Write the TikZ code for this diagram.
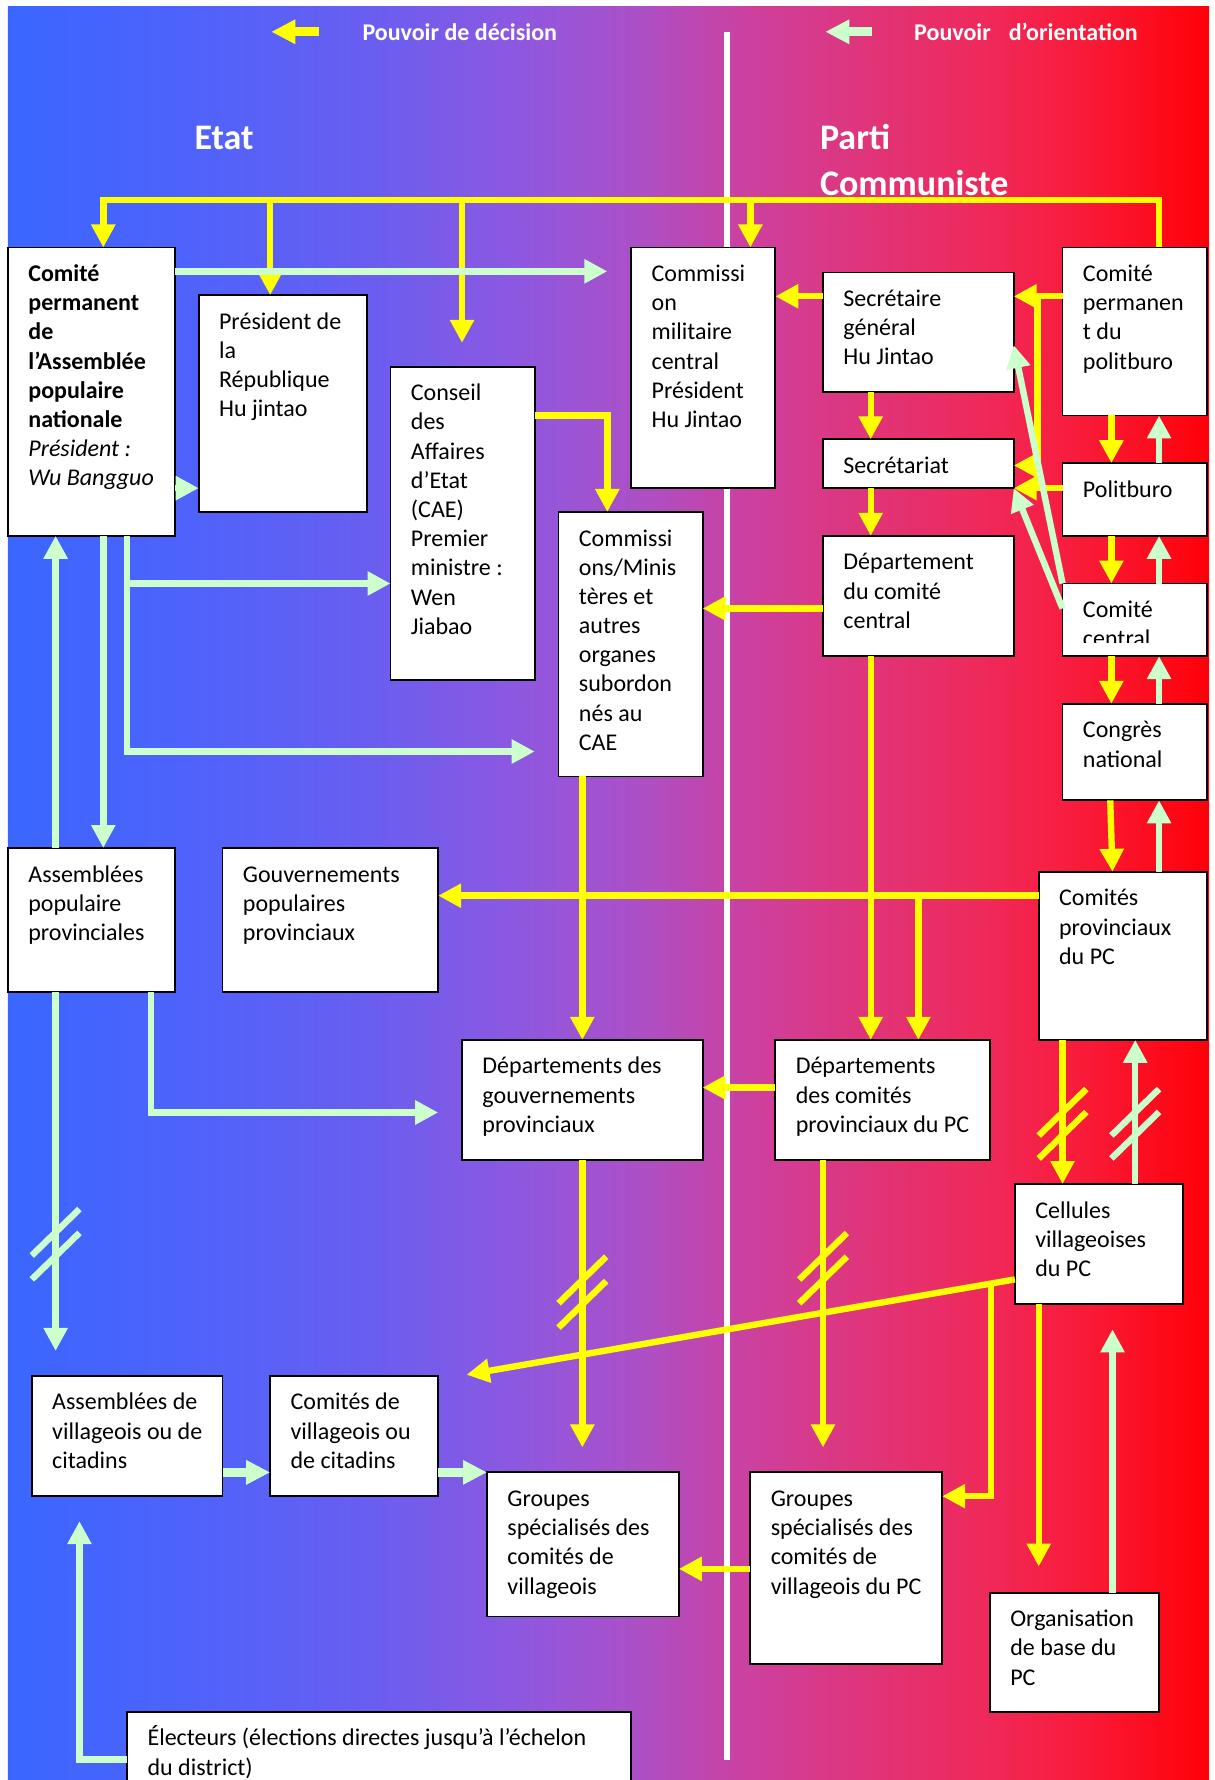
\documentclass[tikz,border=0pt]{standalone}
\usepackage{fontspec}
\setmainfont{Carlito}
\usetikzlibrary{arrows.meta}
\definecolor{yel}{RGB}{255,255,0}
\definecolor{grn}{RGB}{204,255,204}
\definecolor{g0}{RGB}{58,102,255}
\definecolor{g1}{RGB}{78,99,251}
\definecolor{g2}{RGB}{105,94,240}
\definecolor{g3}{RGB}{140,88,225}
\definecolor{g4}{RGB}{170,80,200}
\definecolor{g5}{RGB}{205,64,158}
\definecolor{g6}{RGB}{225,52,120}
\definecolor{g7}{RGB}{240,40,88}
\definecolor{g8}{RGB}{249,26,55}
\definecolor{g9}{RGB}{255,0,8}
\pgfdeclarehorizontalshading{bgsh}{100bp}{color(0bp)=(g0); color(25bp)=(g0); color(32.5bp)=(g1); color(40bp)=(g2); color(46bp)=(g3); color(51bp)=(g4); color(56bp)=(g5); color(61bp)=(g6); color(66bp)=(g7); color(70bp)=(g8); color(75bp)=(g9); color(100bp)=(g9)}
\newcommand\unitpt{0.5678pt}
\tikzset{
  boxst/.style={draw=black, line width=0.9pt, fill=white, inner sep=0pt, outer sep=0pt},
  txtst/.style={anchor=base west, inner sep=0pt, outer sep=0pt, font=\fontsize{12}{14.6}\selectfont},
  ttl/.style={anchor=base west, inner sep=0pt, text=white},
  yline/.style={draw=yel, line width=3.2pt},
  gline/.style={draw=grn, line width=3.2pt},
  yarr/.style={yline, -{Triangle[length=11.5pt,width=11.5pt]}},
  garr/.style={gline, -{Triangle[length=11.5pt,width=11.5pt]}},
  ybig/.style={draw=yel, line width=4.3pt, -{Triangle[length=12pt,width=11.5pt]}},
  gbig/.style={draw=grn, line width=4.3pt, -{Triangle[length=12pt,width=11.5pt]}},
}
\newcommand\bxframe[5]{\node[boxst, minimum width={(#4-#2)*\unitpt}, minimum height={(#5-#3)*\unitpt}, anchor=north west] (#1) at (#2,#3) {};}
\newcommand\bxtext[4]{\node[txtst] (#1) at (#2,#3) {\begin{minipage}[t]{8cm}#4\end{minipage}};}
\newcommand\mkbox[6]{\bxframe{#1}{#2}{#3}{#4}{#5}\bxtext{#1-t}{#2+18}{#3+30}{#6}}
\newcommand\brk[3]{\draw[draw=#1, line width=3.2pt] (#2-21,#3+20.5) -- (#2+21,#3-20.5);}
\begin{document}
\begin{tikzpicture}[x=0.5678pt,y=-0.5678pt]
\useasboundingbox (0,0) rectangle (1070,1568);
\shade[shading=bgsh] (7,6) rectangle (1065,1575);
\draw[white, line width=3pt] (640,28) -- (640,1550);

% legend
\coordinate (l1s) at (281,28); \coordinate (l1e) at (239,28);
\coordinate (l2s) at (768,28); \coordinate (l2e) at (727,28);
\draw[ybig] (l1s) -- (l1e);
\draw[gbig] (l2s) -- (l2e);
\node[ttl, font=\bfseries\fontsize{12}{14}\selectfont] (tdec) at (319,36) {Pouvoir de décision};
\node[ttl, font=\bfseries\fontsize{12}{14}\selectfont] (tori) at (805,36) {Pouvoir\hspace{0.75em}d’orientation};
\node[ttl, font=\bfseries\fontsize{18}{22}\selectfont] (tetat) at (171,132) {Etat};
\node[ttl, font=\bfseries\fontsize{18}{22}\selectfont] (tparti) at (722,132) {Parti};
\node[ttl, font=\bfseries\fontsize{18}{22}\selectfont] (tcomm) at (722,172) {Communiste};

% boxes
\mkbox{cpan}{7}{218}{154}{472}{{\bfseries Comité\\permanent\\de\\l’Assemblée\\populaire\\nationale}\\\textit{Président :}\\\textit{Wu Bangguo}}
\mkbox{pres}{175}{260}{323}{451}{Président de\\la\\République\\Hu jintao}
\mkbox{cae}{344}{323}{471}{599}{Conseil\\des\\Affaires\\d’Etat\\(CAE)\\Premier\\ministre :\\Wen\\Jiabao}
\mkbox{comm}{492}{451}{619}{684}{Commissi\\ons/Minis\\tères et\\autres\\organes\\subordon\\nés au\\CAE}
\mkbox{cmc}{556}{218}{683}{430}{Commissi\\on\\militaire\\central\\Président\\Hu Jintao}
\mkbox{sg}{725}{240}{893}{345}{Secrétaire\\général\\Hu Jintao}
\mkbox{secr}{725}{387}{893}{430}{Secrétariat}
\mkbox{dcc}{725}{472}{893}{578}{Département\\du comité\\central}
\mkbox{cpp}{936}{218}{1063}{366}{Comité\\permanen\\t du\\politburo}
\mkbox{polit}{936}{408}{1063}{472}{Politburo}
\bxframe{cc}{936}{514}{1063}{578}
\begin{scope}
\clip (936,514) rectangle (1063,566);
\bxtext{cc-t}{954}{544}{Comité\\central}
\end{scope}
\mkbox{cong}{936}{620}{1063}{705}{Congrès\\national}
\mkbox{cprov}{915}{768}{1063}{916}{Comités\\provinciaux\\du PC}
\mkbox{aprov}{7}{747}{154}{874}{Assemblées\\populaire\\provinciales}
\mkbox{gprov}{196}{747}{386}{874}{Gouvernements\\populaires\\provinciaux}
\mkbox{dgp}{407}{916}{619}{1022}{Départements des\\gouvernements\\provinciaux}
\mkbox{dcp}{683}{916}{872}{1022}{Départements\\des comités\\provinciaux du PC}
\mkbox{cell}{894}{1043}{1042}{1149}{Cellules\\villageoises\\du PC}
\mkbox{avil}{28}{1212}{196}{1318}{Assemblées de\\villageois ou de\\citadins}
\mkbox{cvil}{238}{1212}{386}{1318}{Comités de\\villageois ou\\de citadins}
\mkbox{gsv}{429}{1297}{598}{1424}{Groupes\\spécialisés des\\comités de\\villageois}
\mkbox{gspc}{661}{1297}{830}{1466}{Groupes\\spécialisés des\\comités de\\villageois du PC}
\mkbox{org}{872}{1403}{1021}{1508}{Organisation\\de base du\\PC}
\mkbox{elec}{112}{1508}{556}{1600}{Électeurs (élections directes jusqu’à l’échelon\\du district)}

% free ends
\coordinate (caeIn) at (407,302);
\coordinate (cmcIn) at (535,239);
\coordinate (commIn) at (471,662);
\coordinate (dgpIn) at (386,980);
\coordinate (gsvIn) at (513,1275);
\coordinate (gspcIn) at (725,1275);
\coordinate (cvilIn) at (411,1211);
\coordinate (orgIn) at (915,1380);
\coordinate (cellIn) at (980,1171);
\coordinate (avilIn) at (49,1190);
\coordinate (avilUp) at (70,1340);

% yellow: decision
\draw[yarr] (1021,0 |- cpp.north) -- (1021,176) -- (91,176) -- (91,0 |- cpan.north);
\draw[yarr] (238,176) -- (238,0 |- pres.north);
\draw[yarr] (407,176) -- (caeIn);
\draw[yarr] (661,176) -- (661,0 |- cmc.north);
\draw[yarr] (cae.east |- 0,366) -- (535,366) -- (535,0 |- comm.north);
\draw[yarr] (sg.west |- 0,261) -- (cmc.east |- 0,261);
\draw[yarr] (cpp.west |- 0,261) -- (sg.east |- 0,261);
\draw[yline] (914,261) -- (914,430);
\draw[yarr] (914,410) -- (secr.east |- 0,410);
\draw[yarr] (polit.west |- 0,430) -- (secr.east |- 0,430);
\draw[yarr] (767,0 |- sg.south) -- (767,0 |- secr.north);
\draw[yarr] (767,0 |- secr.south) -- (767,0 |- dcc.north);
\draw[yarr] (dcc.west |- 0,536) -- (comm.east |- 0,536);
\draw[yarr] (767,0 |- dcc.south) -- (767,0 |- dcp.north);
\draw[yarr] (979,0 |- cpp.south) -- (979,0 |- polit.north);
\draw[yarr] (979,0 |- polit.south) -- (979,0 |- cc.north);
\draw[yarr] (979,0 |- cc.south) -- (979,0 |- cong.north);
\draw[yarr] (978,0 |- cong.south) -- (980,0 |- cprov.north);
\draw[yarr] (cprov.west |- 0,789) -- (gprov.east |- 0,789);
\draw[yarr] (809,789) -- (809,0 |- dcp.north);
\draw[yarr] (513,0 |- comm.south) -- (513,0 |- dgp.north);
\draw[yarr] (dcp.west |- 0,958) -- (dgp.east |- 0,958);
\draw[yarr] (513,0 |- dgp.south) -- (gsvIn);
\draw[yarr] (725,0 |- dcp.south) -- (gspcIn);
\draw[yarr] (936,0 |- cprov.south) -- (936,0 |- cell.north);
\draw[yarr] (cell.west |- 0,1127) -- (cvilIn);
\draw[yarr] (873,1130.5) -- (873,1318) -- (gspc.east |- 0,1318);
\draw[yarr] (915,0 |- cell.south) -- (orgIn);
\draw[yarr] (gspc.west |- 0,1382) -- (gsv.east |- 0,1382);
\brk{yel}{513}{1127.5}\brk{yel}{513}{1149}
\brk{yel}{725}{1106.7}\brk{yel}{725}{1127.5}
\brk{yel}{936}{979.8}\brk{yel}{936}{1000}

% green: orientation
\draw[garr] (cpan.east |- 0,239) -- (cmcIn);
\draw[garr] (cpan.east |- 0,430) -- (pres.west |- 0,430);
\draw[garr] (112,0 |- cpan.south) -- (112,662) -- (commIn);
\draw[garr] (112,514) -- (cae.west |- 0,514);
\draw[garr] (91,0 |- cpan.south) -- (91,0 |- aprov.north);
\draw[garr] (49,0 |- aprov.north) -- (49,0 |- cpan.south);
\draw[garr] (49,0 |- aprov.south) -- (avilIn);
\draw[garr] (133,0 |- aprov.south) -- (133,980) -- (dgpIn);
\draw[gbig] (avil.east |- 0,1297) -- (cvil.west |- 0,1297);
\draw[gbig] (cvil.east |- 0,1297) -- (gsv.west |- 0,1297);
\draw[garr] (elec.west |- 0,1550) -- (70,1550) -- (avilUp);
\draw[garr] (1000,0 |- cell.north) -- (1000,0 |- cprov.south);
\draw[garr] (980,0 |- org.north) -- (cellIn);
\draw[garr] (1021,0 |- polit.north) -- (1021,0 |- cpp.south);
\draw[garr] (1021,0 |- cc.north) -- (1021,0 |- polit.south);
\draw[garr] (1021,0 |- cong.north) -- (1021,0 |- cc.south);
\draw[garr] (1021,0 |- cprov.north) -- (1021,0 |- cong.south);
\draw[garr] (cc.north west) -- (sg.east |- 0,304);
\draw[garr] (cc.west |- 0,536) -- (secr.south east);
\brk{grn}{49}{1085.5}\brk{grn}{49}{1106.5}
\brk{grn}{1000}{979.8}\brk{grn}{1000}{1000}
\end{tikzpicture}
\end{document}
